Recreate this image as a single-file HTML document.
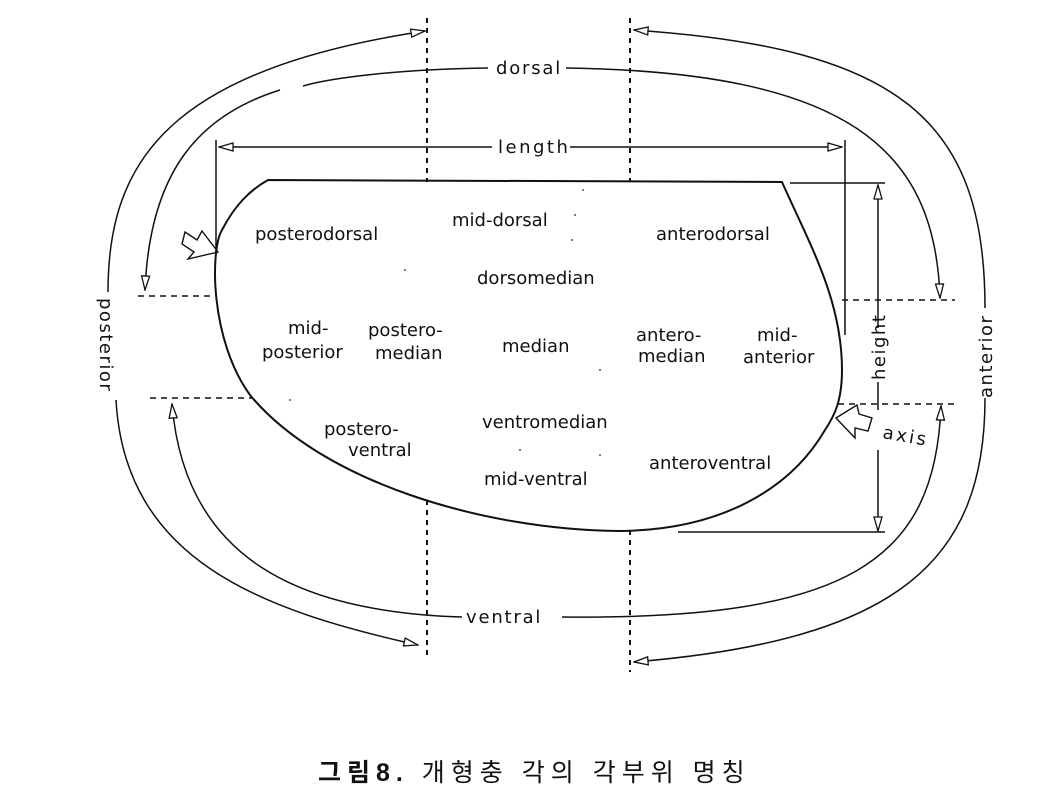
<!DOCTYPE html>
<html><head><meta charset="utf-8"><style>
html,body{margin:0;padding:0;background:#fff;}
svg{display:block;}
text{font-family:"DejaVu Sans","Liberation Sans",sans-serif;font-size:18px;fill:#111;}
</style></head><body>
<svg width="1055" height="794" viewBox="0 0 1055 794" xmlns="http://www.w3.org/2000/svg">
<defs>
<marker id="a" viewBox="0 0 16 10" refX="15" refY="5" markerWidth="16" markerHeight="10" markerUnits="userSpaceOnUse" orient="auto">
<path d="M1,1 L15,5 L1,9 Z" fill="#fff" stroke="#111" stroke-width="1.3"/>
</marker>
</defs>
<g fill="none" stroke="#111" stroke-width="1.5">
<path d="M427,18 V182 M427,500 V660 M630,18 V182 M630,530 V672" stroke-dasharray="5,5" stroke-width="2"/>
<path d="M138,296 H212 M842,300 H955 M150,398 H252 M838,404 H958" stroke-dasharray="6,5" stroke-width="1.6"/>
<path d="M268,180 L782,182 C810,245 842,300 842,370 C842,400 835,415 825,430 C790,490 720,530 620,531 C480,530 320,480 250,395 C210,340 210,250 222,230 C235,205 250,190 268,180 Z" stroke-width="2"/>
<path d="M492,147 H219" marker-end="url(#a)"/>
<path d="M570,147 H842" marker-end="url(#a)"/>
<path d="M216,140 V252 M845,140 V335"/>
<path d="M790,183 H885 M678,532 H885"/>
<path d="M878,328 V185" marker-end="url(#a)"/>
<path d="M878,382 V410"/>
<path d="M878,450 V531" marker-end="url(#a)"/>
<path d="M108,292 C108,160 170,70 425,31" marker-end="url(#a)"/>
<path d="M116,400 C125,560 260,610 418,645" marker-end="url(#a)"/>
<path d="M488,68 C400,69 330,78 303,86"/>
<path d="M280,90 C200,115 150,170 145,290" marker-end="url(#a)"/>
<path d="M462,617 C300,612 185,560 172,404" marker-end="url(#a)"/>
<path d="M985,308 C985,120 900,48 634,30" marker-end="url(#a)"/>
<path d="M985,398 C985,560 900,640 634,662" marker-end="url(#a)"/>
<path d="M566,68 C850,72 935,150 940,298" marker-end="url(#a)"/>
<path d="M562,617 C850,620 935,560 941,406" marker-end="url(#a)"/>
<path d="M218,252 L202,231 L197,240 L185,232 L182,244 L194,252 L188,259 Z" stroke-width="1.4"/>
<path d="M836,418 L857,405 L859,414 L872,418 L868,431 L855,428 L855,438 Z" stroke-width="1.4"/>
</g>
<g>
<text x="496" y="74" font-size="17" letter-spacing="1.8">dorsal</text>
<text x="498" y="153" font-size="17" letter-spacing="2.5">length</text>
<text x="466" y="623" font-size="17" letter-spacing="1.8">ventral</text>
<text transform="translate(100,298) rotate(90)" font-size="17" letter-spacing="1.5">posterior</text>
<text transform="translate(992,398) rotate(-90)" font-size="17" letter-spacing="1.5">anterior</text>
<text transform="translate(885,380) rotate(-90)" font-size="17" letter-spacing="1.5">height</text>
<text transform="translate(882,438) rotate(10)" font-size="17" letter-spacing="2.5">axis</text>
<text x="255" y="240">posterodorsal</text>
<text x="452" y="226">mid-dorsal</text>
<text x="656" y="240">anterodorsal</text>
<text x="477" y="284">dorsomedian</text>
<text x="288" y="334">mid-</text>
<text x="262" y="358">posterior</text>
<text x="368" y="336">postero-</text>
<text x="375" y="359">median</text>
<text x="502" y="352">median</text>
<text x="636" y="341">antero-</text>
<text x="638" y="362">median</text>
<text x="757" y="341">mid-</text>
<text x="743" y="363">anterior</text>
<text x="324" y="435">postero-</text>
<text x="348" y="456">ventral</text>
<text x="482" y="428">ventromedian</text>
<text x="484" y="485">mid-ventral</text>
<text x="649" y="469">anteroventral</text>
</g>
<g fill="#555">
<circle cx="583" cy="190" r="1"/><circle cx="575" cy="215" r="1"/><circle cx="572" cy="240" r="1"/><circle cx="405" cy="270" r="1"/><circle cx="600" cy="370" r="1"/><circle cx="290" cy="400" r="1"/><circle cx="520" cy="450" r="1"/><circle cx="600" cy="455" r="1"/>
</g>
<text x="318" y="781" style="font-family:'Liberation Sans','Noto Sans CJK KR',sans-serif;font-size:25px;letter-spacing:6px"><tspan font-weight="bold">그림8.</tspan> 개형충 각의 각부위 명칭</text>
</svg>
</body></html>
